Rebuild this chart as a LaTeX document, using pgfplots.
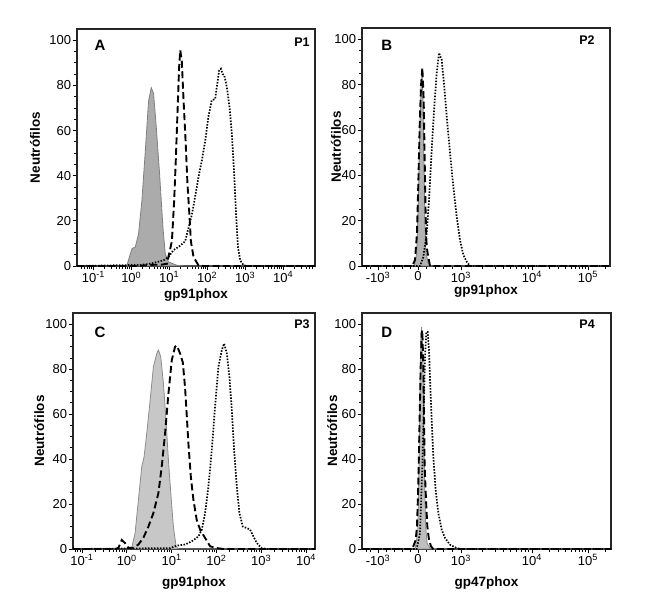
\documentclass[border=0pt]{standalone}
\usepackage{fontspec}
\setmainfont{Liberation Sans}
\usepackage{pgfplots}
\pgfplotsset{compat=1.18}
\tikzset{
  letter/.style={font=\fontsize{15}{15}\selectfont\bfseries},
  ptag/.style={font=\fontsize{12.5}{13}\selectfont\bfseries},
  dashedc/.style={black, line width=1.9pt, dash pattern=on 7pt off 3.5pt},
  dottedc/.style={black, line width=1.7pt, dash pattern=on 1.5pt off 1.5pt},
}
\pgfplotsset{
  panel/.style={
    scale only axis, ymin=0, ymax=105, ytick={0,20,...,100}, minor y tick num=3,
    axis line style={black!85, line width=1.1pt},
    tick style={black, line width=0.8pt},
    major tick length=4.5pt, minor tick length=2.8pt, tick align=outside,
    xtick pos=bottom, ytick pos=left,
    tick label style={font=\fontsize{13}{13}\selectfont},
    yticklabel style={inner sep=1.2pt},
    xticklabel style={inner sep=1pt},
    label style={font=\fontsize{13.5}{15}\selectfont\bfseries},
    /pgf/number format/assume math mode=true,
    ylabel={Neutrófilos}, clip=false,
  },
  logpanel/.style={
    xtick={-1,0,1,2,3,4},
    xticklabels={10\textsuperscript{-1},10\textsuperscript{0},10\textsuperscript{1},10\textsuperscript{2},10\textsuperscript{3},10\textsuperscript{4}},
    minor xtick={-1.301,-1.222,-1.155,-1.097,-1.046,
      -0.699,-0.523,-0.398,-0.301,-0.222,-0.155,-0.097,-0.046,
      0.301,0.477,0.602,0.699,0.778,0.845,0.903,0.954,
      1.301,1.477,1.602,1.699,1.778,1.845,1.903,1.954,
      2.301,2.477,2.602,2.699,2.778,2.845,2.903,2.954,
      3.301,3.477,3.602,3.699,3.778,3.845,3.903,3.954,
      4.301,4.477,4.602,4.699,4.778},
  },
  biexpanel/.style={
    xtick={-40,0,43,114,170},
    xticklabels={-10\textsuperscript{3},0,10\textsuperscript{3},10\textsuperscript{4},10\textsuperscript{5}},
    minor xtick={-52,-48,-32,-24,-16,-8,8.6,17.2,25.8,34.4,64.4,76.9,85.7,92.6,98.2,103,107.1,110.7,130.9,140.7,147.7,153.1,157.6,161.3,164.6,167.4,186.9},
  },
}
\begin{document}
\begin{tikzpicture}
\useasboundingbox (0,0) rectangle (655pt,609pt);

% ---------- A ----------
\begin{axis}[panel, logpanel, at={(77pt,343pt)}, anchor=south west, width=238pt, height=237pt,
  xmin=-1.43, xmax=4.84, xlabel={gp91phox},
  xlabel style={at={(axis description cs:0.5,-0.122)}, anchor=center},
  ylabel style={at={(axis description cs:-0.176,0.5)}, anchor=center}]
\addplot[fill=black!33, draw=black!50, line width=0.8pt] coordinates {
(-1.43,0) (-0.15,0) (-0.11,0.5) (-0.05,4) (0.02,7.7) (0.105,8.4) (0.19,14) (0.28,29) (0.37,51) (0.455,73) (0.526,79) (0.587,76.5) (0.658,61.6) (0.745,41) (0.834,17) (0.895,5.5) (0.98,1.8) (1.2,0.3) (1.4,0) (4.84,0)} \closedcycle;
\addplot[dashedc] coordinates {
(-1.43,0) (0.2,0) (0.5,0.5) (0.8,0.6) (0.94,1) (1.07,11) (1.13,29) (1.176,48.3) (1.22,69) (1.26,88) (1.29,95.6) (1.33,91) (1.377,73.4) (1.43,55.7) (1.48,36.5) (1.535,21.7) (1.57,11) (1.64,4) (1.77,0.3) (1.9,0) (4.84,0)};
\addplot[dottedc] coordinates {
(-1.43,0) (0.24,0.5) (0.5,1) (0.85,2.5) (0.98,4) (1.11,7) (1.29,9) (1.42,11) (1.51,17) (1.6,23) (1.68,30.5) (1.77,39.4) (1.86,46.8) (1.95,55.7) (2.03,66) (2.12,73.4) (2.21,74) (2.25,79) (2.316,86.7) (2.36,87.4) (2.41,85) (2.45,84.5) (2.52,79) (2.59,70) (2.65,58.6) (2.71,41) (2.76,23) (2.81,8.4) (2.87,2.5) (2.96,0.3) (3.04,0) (4.84,0)};
\node[letter] at (axis description cs:0.097,0.932) {A};
\node[ptag] at (axis description cs:0.945,0.945) {P1};
\end{axis}

% ---------- B ----------
\begin{axis}[panel, biexpanel, at={(362pt,343pt)}, anchor=south west, width=248pt, height=238pt,
  xmin=-56, xmax=192, xlabel={gp91phox},
  xlabel style={at={(axis description cs:0.5,-0.105)}, anchor=center},
  ylabel style={at={(axis description cs:-0.105,0.5)}, anchor=center}]
\addplot[fill=black!30, draw=black!50, line width=0.8pt] coordinates {
(-56,0) (-3.67,0) (-1.33,5.6) (0.33,29) (1.67,58.7) (3,79) (4,84.5) (5,73) (6,44) (7,17.4) (8,5.6) (10.3,1.2) (13.7,0) (192,0)} \closedcycle;
\addplot[dashedc] coordinates {
(-56,0) (-5.67,0) (-3,2.7) (-1,14.5) (0.33,36.6) (1.67,61.7) (3,79.4) (4.33,87.5) (5.67,73.5) (6.67,46.9) (7.67,21.8) (8.67,8.6) (9.67,5.6) (12,0) (192,0)};
\addplot[dottedc] coordinates {
(-56,0) (2,0) (5.33,4) (8.67,14.5) (11,29) (13.67,51) (16.33,70.5) (18.67,85) (21,94) (23.67,91) (26.33,79) (29,64.6) (32,50) (35.33,35) (38.67,21.8) (42,11.5) (45.33,4.9) (48.67,1.9) (52,0) (192,0)};
\node[letter] at (axis description cs:0.10,0.929) {B};
\node[ptag] at (axis description cs:0.907,0.95) {P2};
\end{axis}

% ---------- C ----------
\begin{axis}[panel, logpanel, at={(73pt,60pt)}, anchor=south west, width=242pt, height=236pt,
  xmin=-1.2, xmax=4.2, xlabel={gp91phox},
  xlabel style={at={(axis description cs:0.5,-0.144)}, anchor=center},
  ylabel style={at={(axis description cs:-0.14,0.5)}, anchor=center}]
\addplot[fill=black!22, draw=black!45, line width=0.8pt] coordinates {
(-1.2,0) (0.08,0) (0.11,0.5) (0.185,7) (0.26,21.9) (0.335,36.7) (0.386,41) (0.446,51.5) (0.52,66) (0.594,81) (0.67,87) (0.706,88.5) (0.759,85.5) (0.817,73.7) (0.87,59) (0.929,39.6) (0.982,24.9) (1.04,10) (1.1,1.2) (1.152,0) (4.2,0)} \closedcycle;
\addplot[dashedc] coordinates {
(-1.2,0) (-0.25,0) (-0.187,0.5) (-0.112,4) (-0.038,2.6) (0.036,0.5) (0.147,0.5) (0.26,2) (0.371,5) (0.483,10) (0.594,16) (0.706,24.9) (0.78,36.7) (0.855,51.5) (0.929,69) (1.004,84) (1.078,90) (1.116,90.5) (1.19,87) (1.25,83) (1.30,72) (1.34,59) (1.375,47) (1.43,32) (1.487,21.9) (1.56,13) (1.636,8.6) (1.748,4.9) (1.86,1.2) (2.01,0.4) (2.156,0) (4.2,0)};
\addplot[dottedc] coordinates {
(-1.2,0) (0.967,0.4) (1.116,1.5) (1.30,2) (1.45,3.4) (1.6,5.6) (1.674,8.6) (1.748,16) (1.822,27.8) (1.897,44) (1.97,63.3) (2.045,81) (2.12,88.5) (2.172,91.4) (2.232,87) (2.29,76.6) (2.344,61.8) (2.395,44) (2.455,27.8) (2.513,16) (2.589,10) (2.679,9.3) (2.752,8.6) (2.826,5.6) (2.9,2.7) (3.01,0.4) (3.125,0) (4.2,0)};
\node[letter] at (axis description cs:0.112,0.92) {C};
\node[ptag] at (axis description cs:0.946,0.953) {P3};
\end{axis}

% ---------- D ----------
\begin{axis}[panel, biexpanel, at={(362pt,60pt)}, anchor=south west, width=249pt, height=236pt,
  xmin=-56, xmax=193, xlabel={gp47phox},
  xlabel style={at={(axis description cs:0.5,-0.144)}, anchor=center},
  ylabel style={at={(axis description cs:-0.12,0.5)}, anchor=center}]
\addplot[fill=black!25, draw=black!45, line width=0.8pt] coordinates {
(-56,0) (-3,0) (-0.33,7) (1,36.7) (2,73.7) (3,96) (3.67,98.8) (4.67,88.5) (5.67,59) (6.67,29.3) (7.67,10) (9,2.7) (12,0.4) (20.3,0) (193,0)} \closedcycle;
\addplot[dashedc] coordinates {
(-56,0) (-5.67,0) (-2.33,4) (-1,10) (0.33,29) (1.67,59) (2.67,81) (3.67,96) (4.33,97.3) (5.33,81) (6,59) (6.67,36.7) (8,21.9) (9.33,10) (11,4) (13,1.2) (15.3,0) (193,0)};
\addplot[dottedc] coordinates {
(-56,0) (-1.33,0) (2,7) (4.33,36.7) (6,66) (7,85.5) (8.33,96.6) (9.67,96.6) (11,88.5) (12.33,72) (13.67,57.4) (15.33,41) (17.67,26.3) (20.33,16) (23.67,8.6) (27,4.9) (32,1.9) (38.67,0.4) (43.67,0) (193,0)};
\node[letter] at (axis description cs:0.10,0.92) {D};
\node[ptag] at (axis description cs:0.904,0.953) {P4};
\end{axis}
\end{tikzpicture}
\end{document}
